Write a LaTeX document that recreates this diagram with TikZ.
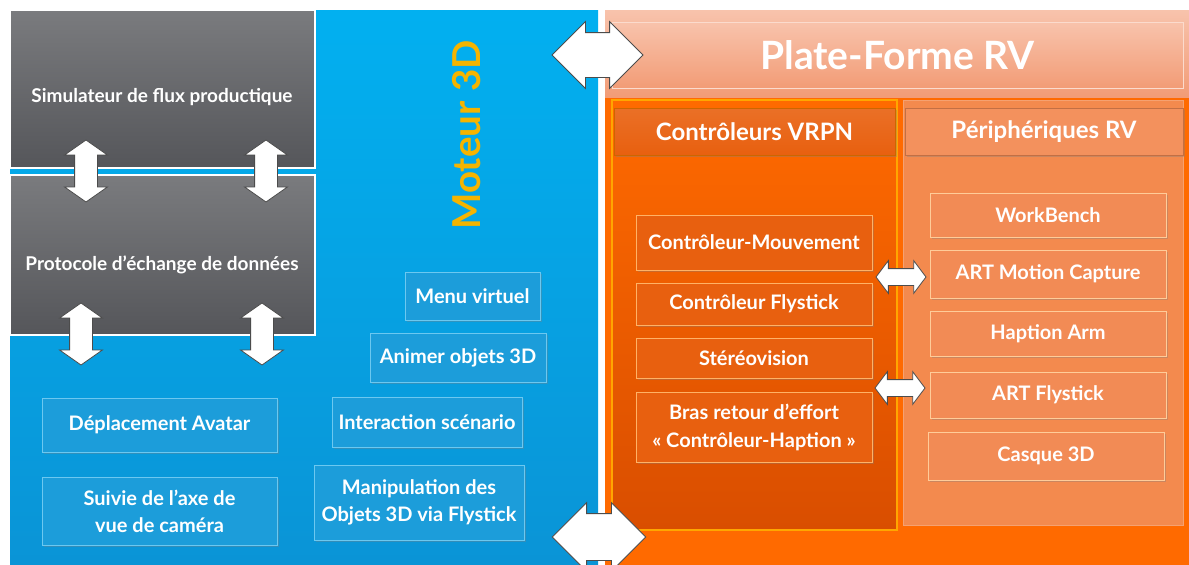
\documentclass[tikz,border=0pt]{standalone}
\usepackage{fontspec}
\setmainfont{Lato}
\usepackage{tikz}
\usetikzlibrary{shapes.arrows,shadows}

\definecolor{gris1}{HTML}{7A7B7E}
\definecolor{gris2}{HTML}{55565A}
\definecolor{bleu1}{HTML}{02B0F0}
\definecolor{bleu2}{HTML}{0A94D6}
\definecolor{bleubox}{HTML}{1C9DDA}
\definecolor{bleubord}{HTML}{6CC8F0}
\definecolor{or3d}{HTML}{F5B400}
\definecolor{peche1}{HTML}{F8C3AC}
\definecolor{peche2}{HTML}{F29C76}
\definecolor{orange1}{HTML}{FF6A00}
\definecolor{orange2}{HTML}{D94E00}
\definecolor{orbox}{HTML}{E8600F}
\definecolor{orclair}{HTML}{F38A4E}
\definecolor{orclairbox}{HTML}{F28B55}

\begin{document}
\begin{tikzpicture}[x=1pt,y=-1pt,
  grisbox/.style={rectangle, draw=white, line width=2.5pt, top color=gris1, bottom color=gris2},
  grislabel/.style={text=white, font=\bfseries\fontsize{19}{22}\selectfont},
  ombre/.style={drop shadow={shadow xshift=1.5pt, shadow yshift=-2pt, opacity=0.35}},
  bleubox/.style={rectangle, ombre, draw=bleubord, line width=1pt, fill=bleubox, text=white, align=center,
    font=\bfseries\fontsize{20}{27}\selectfont},
  vrpnbox/.style={rectangle, ombre, draw=orange!60!white, line width=1pt, fill=orbox, text=white, align=center,
    font=\bfseries\fontsize{20}{28}\selectfont},
  periphbox/.style={rectangle, ombre, draw=orange!40!white, line width=1pt, fill=orclairbox, text=white, align=center,
    font=\bfseries\fontsize{20}{22}\selectfont},
  fleche/.style={double arrow, draw=black!70, fill=white, line width=0.8pt},
]
\useasboundingbox (0,0) rectangle (1189,565);
\clip (0,0) rectangle (1189,565);
\fill[white] (0,0) rectangle (1189,565);

% Moteur 3D
\shade[top color=bleu1, bottom color=bleu2] (10,10) rectangle (598,565);
\node[grisbox, minimum width=305, minimum height=158] (sim) at (162.5,89) {};
\node[grislabel] (simtxt) at (162,97) {Simulateur de flux productique};
\node[grisbox, minimum width=305, minimum height=160] (prot) at (162.5,255) {};
\node[grislabel] (prottxt) at (162,265) {Protocole d’échange de données};
\node[rotate=90, text=or3d, font=\bfseries\fontsize{38.5}{38.5}\selectfont] (moteur) at (467,135) {Moteur 3D};

\node[bleubox, minimum width=135, minimum height=48] (menu) at (472.5,296) {Menu virtuel};
\node[bleubox, minimum width=176, minimum height=49] (animer) at (458,357.5) {Animer objets 3D};
\node[bleubox, minimum width=190, minimum height=50] (interaction) at (427,422) {Interaction scénario};
\node[bleubox, minimum width=210, minimum height=75] (manip) at (419,502.5) {Manipulation des\\Objets 3D via Flystick};
\node[bleubox, minimum width=235, minimum height=54] (avatar) at (159.5,425) {Déplacement Avatar};
\node[bleubox, minimum width=235, minimum height=68] (camera) at (159.5,511) {Suivie de l’axe de\\vue de caméra};

% Plate-Forme RV
\fill[orange1] (605,10) rectangle (1189,565);
\shade[top color=peche1, bottom color=peche2] (605,10) rectangle (1189,97);
\node[rectangle, draw=peche1!60!white, line width=1pt, top color=peche1, bottom color=peche2, text=white,
  minimum width=571, minimum height=66, font=\bfseries\fontsize{39}{39}\selectfont] (pf) at (897.5,55) {Plate-Forme RV};

\node[rectangle, draw=orange!70!yellow, line width=1.5pt, top color=orange1, bottom color=orange2,
  minimum width=285, minimum height=430] (vrpn) at (754.5,315) {};
\node[rectangle, draw=orclair!80!white, line width=1pt, fill=orclair,
  minimum width=280, minimum height=425] (periph) at (1043,312.5) {};
\node[rectangle, ombre, draw=orange!80!black, line width=1pt, top color=orbox!90!white, bottom color=orbox,
  text=white, minimum width=281, minimum height=47, font=\bfseries\fontsize{24}{24}\selectfont] (vrpnhead) at (754.5,131.5) {Contrôleurs VRPN};
\node[rectangle, ombre, draw=orclairbox!80!black, line width=1pt, fill=orclairbox!95!white,
  text=white, minimum width=278, minimum height=47, font=\bfseries\fontsize{24}{24}\selectfont] (periphhead) at (1044,131.5) {Périphériques RV};

\node[vrpnbox, minimum width=236, minimum height=55] (mouv) at (754,242.5) {Contrôleur-Mouvement};
\node[vrpnbox, minimum width=236, minimum height=42] (flyctl) at (754,304) {Contrôleur Flystick};
\node[vrpnbox, minimum width=236, minimum height=40] (stereo) at (754,358) {Stéréovision};
\node[vrpnbox, minimum width=236, minimum height=70] (bras) at (754,427) {Bras retour d’effort\\« Contrôleur-Haption »};

\node[periphbox, minimum width=236, minimum height=44] (workbench) at (1048,215) {WorkBench};
\node[periphbox, minimum width=236, minimum height=48] (motion) at (1048,274) {ART Motion Capture};
\node[periphbox, minimum width=236, minimum height=45] (haption) at (1048,333.5) {Haption Arm};
\node[periphbox, minimum width=236, minimum height=46] (artfly) at (1048,395) {ART Flystick};
\node[periphbox, minimum width=236, minimum height=48] (casque) at (1046,456) {Casque 3D};

\fill[orange1] (605,531) rectangle (1189,565);

% double fleches
\node[fleche, rotate=90, minimum height=62, inner sep=11pt, double arrow head extend=10pt, double arrow tip angle=110] (fa) at (86,171) {};
\node[fleche, rotate=90, minimum height=62, inner sep=11pt, double arrow head extend=10pt, double arrow tip angle=110] (fb) at (266,171) {};
\node[fleche, rotate=90, minimum height=62, inner sep=11pt, double arrow head extend=10pt, double arrow tip angle=110] (fc) at (81,334) {};
\node[fleche, rotate=90, minimum height=62, inner sep=11pt, double arrow head extend=10pt, double arrow tip angle=110] (fd) at (262,334) {};
\node[fleche, minimum height=91, inner sep=22pt, double arrow head extend=11pt] (fmoteur) at (597.5,55) {};
\node[fleche, minimum height=92, inner sep=23pt, double arrow head extend=11pt] (fbas) at (599,537) {};
\node[fleche, minimum height=50, inner sep=8pt, double arrow head extend=8pt, double arrow tip angle=106] (fmotion) at (901,277) {};
\node[fleche, minimum height=50, inner sep=8pt, double arrow head extend=8pt, double arrow tip angle=106] (ffly) at (900,388) {};
\end{tikzpicture}
\end{document}
